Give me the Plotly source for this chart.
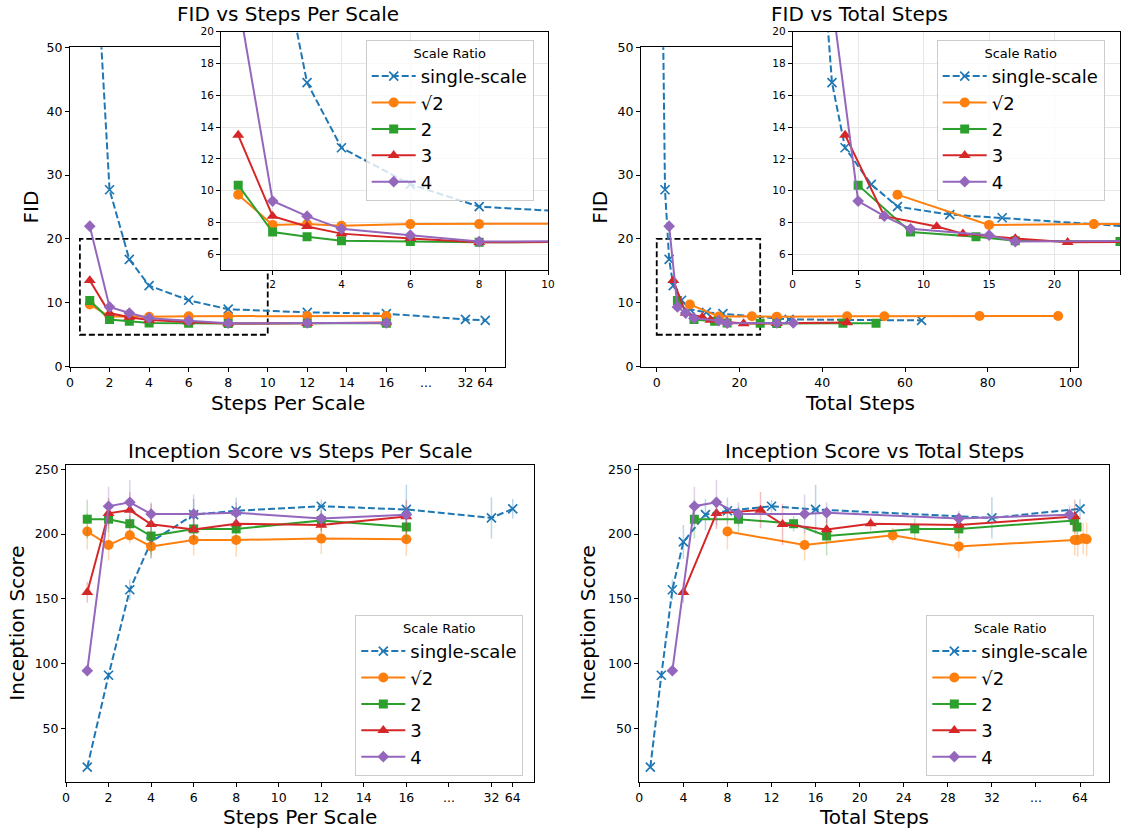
import math
import plotly.graph_objects as go

W, H = 1123, 830
FONT = "DejaVu Sans"

# ---------------- data ----------------
steps_single = [1, 2, 3, 4, 6, 8, 12, 16, 32, 64]
steps_multi = [1, 2, 3, 4, 6, 8, 12, 16]

fid_single = [82.0, 27.7, 16.8, 12.7, 10.4, 9.0, 8.5, 8.3, 7.4, 7.25]
fid_sqrt2 = [9.75, 7.85, 7.9, 7.8, 7.9, 7.9, 7.95, 7.95]
fid_2 = [10.35, 7.4, 7.1, 6.85, 6.8, 6.75, 6.8, 6.8]
fid_3 = [13.5, 8.4, 7.75, 7.3, 7.0, 6.75, 6.8, 6.9]
fid_4 = [22.0, 9.35, 8.4, 7.6, 7.2, 6.8, 6.85, 6.85]

total_single = [1, 2, 3, 4, 6, 8, 12, 16, 32, 64]
total_sqrt2 = [8, 15, 23, 29, 46, 55, 78, 97]
total_2 = [5, 9, 14, 17, 25, 29, 45, 53]
total_3 = [4, 7, 11, 13, 17, 21, 29, 46]
total_4 = [3, 5, 7, 9, 15, 17, 29, 33]

is_single = [20, 91, 157, 194, 215, 218, 221.5, 219, 212.5, 219.5]
is_sqrt2 = [202, 191.5, 199, 190.5, 195.5, 195.5, 196.5, 196]
is_2 = [211.5, 211.5, 208, 198.5, 204, 204, 210.5, 205.5]
is_3 = [155, 216, 218.5, 207.5, 203.5, 208, 207, 213.5]
is_4 = [94.5, 221.5, 224.5, 215.5, 215.5, 216.5, 212, 215]

is_single_err = [0.5, 3, 8, 13, 12, 10, 5, 19, 16, 7.5]
is_sqrt2_err = [14, 12, 6, 9, 12, 13, 12, 13]
is_2_err = [15, 10, 6, 15, 8, 7, 8, 10]
is_3_err = [8, 12, 14, 16, 8, 5, 6, 13]
is_4_err = [3, 15, 17.5, 9, 15, 8, 6, 7]

series_names = ["single-scale", "√2", "2", "3", "4"]
series_colors = ["#1f77b4", "#ff7f0e", "#2ca02c", "#d62728", "#9467bd"]
series_symbols = ["x-thin", "circle", "square", "triangle-up", "diamond"]
series_sizes = [9, 10, 9, 10.5, 9]

steps_per_series = [steps_single] + [steps_multi] * 4
total_per_series = [total_single, total_sqrt2, total_2, total_3, total_4]
fid_per_series = [fid_single, fid_sqrt2, fid_2, fid_3, fid_4]
is_per_series = [is_single, is_sqrt2, is_2, is_3, is_4]
err_per_series = [is_single_err, is_sqrt2_err, is_2_err, is_3_err, is_4_err]

steps_tickvals = [0, 2, 4, 6, 8, 10, 12, 14, 16, 18, 20, 21]
steps_ticktext = ["0", "2", "4", "6", "8", "10", "12", "14", "16", "...", "32", "64"]
total_tickvals = [0, 4, 8, 12, 16, 20, 24, 28, 32, 36, 40]
total_ticktext = ["0", "4", "8", "12", "16", "20", "24", "28", "32", "...", "64"]


def pos_steps(v):
    # broken axis: 32 -> 20, 64 -> 21
    return {32: 20, 64: 21}.get(v, v)


def pos_total(v):
    # broken axis: linear up to 32, then log2 around 64
    return v if v <= 32 else 40 + math.log2(v / 64)


def rgba(hexc, a):
    h = hexc.lstrip("#")
    return "rgba(%d,%d,%d,%.2f)" % (int(h[0:2], 16), int(h[2:4], 16), int(h[4:6], 16), a)


def fx(px):
    return px / W


def fy(py):
    return 1 - py / H


fig = go.Figure()

for i in range(5):
    c = series_colors[i]
    dash = "7px,3px" if i == 0 else "solid"
    if series_symbols[i] == "x-thin":
        mk = dict(symbol="x-thin", size=series_sizes[i], color=c, line=dict(width=1.7, color=c))
    else:
        mk = dict(symbol=series_symbols[i], size=series_sizes[i], color=c, line=dict(width=0))
    ln = dict(color=c, width=2, dash=dash)
    xs = [pos_steps(v) for v in steps_per_series[i]]
    xt = total_per_series[i]
    xtb = [pos_total(v) for v in total_per_series[i]]
    common = dict(mode="lines+markers", name=series_names[i], line=ln, marker=mk, cliponaxis=True)
    # top-left main + inset
    fig.add_trace(go.Scatter(x=xs, y=fid_per_series[i], xaxis="x", yaxis="y",
                             legend="legend", showlegend=True, **common))
    fig.add_trace(go.Scatter(x=xs, y=fid_per_series[i], xaxis="x2", yaxis="y2",
                             showlegend=False, **common))
    # top-right main + inset
    fig.add_trace(go.Scatter(x=xt, y=fid_per_series[i], xaxis="x3", yaxis="y3",
                             legend="legend2", showlegend=True, **common))
    fig.add_trace(go.Scatter(x=xt, y=fid_per_series[i], xaxis="x4", yaxis="y4",
                             showlegend=False, **common))
    # bottom
    eb = dict(type="data", array=err_per_series[i], visible=True, color=rgba(c, 0.3),
              thickness=1.5, width=0)
    fig.add_trace(go.Scatter(x=xs, y=is_per_series[i], xaxis="x5", yaxis="y5",
                             legend="legend3", showlegend=True, error_y=eb, **common))
    fig.add_trace(go.Scatter(x=xtb, y=is_per_series[i], xaxis="x6", yaxis="y6",
                             legend="legend4", showlegend=True, error_y=eb, **common))

tickfont_main = dict(family=FONT, size=12.5, color="black")
tickfont_inset = dict(family=FONT, size=10.5, color="black")


def main_axis(domain, anchor, **kw):
    d = dict(domain=domain, anchor=anchor, showline=True, mirror=True, linecolor="black",
             linewidth=1, ticks="outside", ticklen=4, tickwidth=1, tickcolor="black",
             showgrid=False, zeroline=False, tickfont=tickfont_main, automargin=False)
    d.update(kw)
    return d


def inset_axis(domain, anchor, **kw):
    d = dict(domain=domain, anchor=anchor, showline=True, mirror=True, linecolor="black",
             linewidth=1, ticks="outside", ticklen=4, tickwidth=1, tickcolor="black",
             showgrid=True, gridcolor="#e6e6e6", gridwidth=1, zeroline=False,
             tickfont=tickfont_inset, automargin=False)
    d.update(kw)
    return d


top_y = [fy(366.7), fy(47.3)]
inset_y = [fy(270.2), fy(31.7)]
bot_y = [fy(781.7), fy(465.3)]

layout = dict(
    width=W, height=H, margin=dict(l=0, r=0, t=0, b=0, autoexpand=False),
    paper_bgcolor="white", plot_bgcolor="white",
    font=dict(family=FONT, color="black"),
    xaxis=main_axis([fx(70), fx(505)], "y", range=[0, 22], tickmode="array",
                    tickvals=steps_tickvals, ticktext=steps_ticktext),
    yaxis=main_axis(top_y, "x", range=[0, 50], tickmode="array", tickvals=[0, 10, 20, 30, 40, 50]),
    xaxis2=inset_axis([fx(221), fx(548)], "y2", range=[0.5, 10], tickmode="array",
                      tickvals=[2, 4, 6, 8, 10]),
    yaxis2=inset_axis(inset_y, "x2", range=[5, 20], tickmode="array",
                      tickvals=[6, 8, 10, 12, 14, 16, 18, 20]),
    xaxis3=main_axis([fx(641), fx(1078)], "y3", range=[-3.8, 101.8], tickmode="array",
                     tickvals=[0, 20, 40, 60, 80, 100]),
    yaxis3=main_axis(top_y, "x3", range=[0, 50], tickmode="array", tickvals=[0, 10, 20, 30, 40, 50]),
    xaxis4=inset_axis([fx(792.7), fx(1120)], "y4", range=[0, 25], tickmode="array",
                      tickvals=[0, 5, 10, 15, 20, 25]),
    yaxis4=inset_axis(inset_y, "x4", range=[5, 20], tickmode="array",
                      tickvals=[6, 8, 10, 12, 14, 16, 18, 20]),
    xaxis5=main_axis([fx(66), fx(534)], "y5", range=[0, 22], tickmode="array",
                     tickvals=steps_tickvals, ticktext=steps_ticktext),
    yaxis5=main_axis(bot_y, "x5", range=[8.8, 253.1], tickmode="array",
                     tickvals=[50, 100, 150, 200, 250]),
    xaxis6=main_axis([fx(639.3), fx(1108.7)], "y6", range=[0, 42.6], tickmode="array",
                     tickvals=total_tickvals, ticktext=total_ticktext),
    yaxis6=main_axis(bot_y, "x6", range=[8.8, 253.1], tickmode="array",
                     tickvals=[50, 100, 150, 200, 250]),
)


def legend_cfg(xpx, ypx):
    return dict(x=fx(xpx), y=fy(ypx), xanchor="left", yanchor="top",
                bgcolor="rgba(255,255,255,0.8)", bordercolor="#cccccc", borderwidth=1,
                font=dict(family=FONT, size=18, color="black"),
                title=dict(text="Scale Ratio", side="top center",
                           font=dict(family=FONT, size=13, color="black")),
                itemwidth=44, tracegroupgap=0)


layout["legend"] = legend_cfg(365.7, 40)
layout["legend2"] = legend_cfg(936.7, 40)
layout["legend3"] = legend_cfg(355.3, 615)
layout["legend4"] = legend_cfg(926.3, 615)

fig.update_layout(**layout)

# dashed zoom rectangles
fig.add_shape(type="rect", xref="x", yref="y", x0=0.5, x1=10, y0=5, y1=20,
              line=dict(color="black", width=1.8, dash="6px,3px"), layer="below")
fig.add_shape(type="rect", xref="x3", yref="y3", x0=0, x1=25, y0=5, y1=20,
              line=dict(color="black", width=1.8, dash="6px,3px"), layer="below")

# titles & labels
def ann(text, xpx, ypx, size=20, angle=0):
    fig.add_annotation(text=text, x=fx(xpx), y=fy(ypx), xref="paper", yref="paper",
                       showarrow=False, xanchor="center", yanchor="middle",
                       textangle=angle, font=dict(family=FONT, size=size, color="black"))


ann("FID vs Steps Per Scale", 287.5, 14)
ann("FID vs Total Steps", 859.5, 14)
ann("Steps Per Scale", 287.5, 403)
ann("Total Steps", 859.5, 403)
ann("FID", 30.5, 207, angle=-90)
ann("FID", 599.7, 207, angle=-90)
ann("Inception Score vs Steps Per Scale", 300, 450.7)
ann("Inception Score vs Total Steps", 874, 450.7)
ann("Steps Per Scale", 300, 816.7)
ann("Total Steps", 874, 816.7)
ann("Inception Score", 16.2, 623.5, angle=-90)
ann("Inception Score", 587, 623.5, angle=-90)

fig.write_html(
    "out.html",
    config={"displayModeBar": False},
    post_script="document.body.style.margin='0px';document.body.style.overflow='hidden';",
)
